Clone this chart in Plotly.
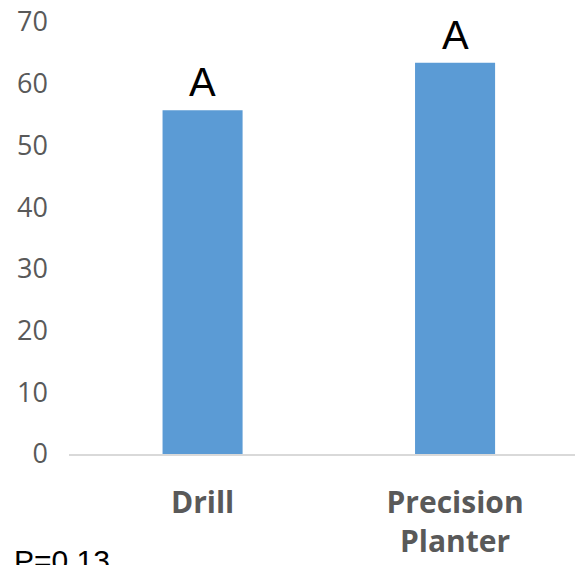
import plotly.graph_objects as go

categories = ["Drill", "Precision<br>Planter"]
values = [55.7, 63.4]
letters = ["A", "A"]
y_ticks = [0, 10, 20, 30, 40, 50, 60, 70]
p_text = "P=0.13"

fig = go.Figure()
fig.add_trace(go.Bar(
    x=categories, y=values,
    marker=dict(color="#5b9bd5", line=dict(width=0)),
    width=0.317,
))

for c, v, t in zip(categories, values, letters):
    fig.add_annotation(x=c, y=v, text=t, showarrow=False, yanchor="bottom",
                       yshift=4, font=dict(family="Arial", size=40, color="black"))

fig.add_annotation(x=-0.113, xref="paper", xanchor="left", y=-0.203, yref="paper",
                   yanchor="top", text=p_text, showarrow=False,
                   font=dict(family="Arial", size=30, color="black"))

fig.update_layout(
    width=575, height=565,
    margin=dict(l=69, r=0, t=22, b=111),
    plot_bgcolor="white", paper_bgcolor="white",
    showlegend=False,
    xaxis=dict(range=[-0.529, 1.475], showline=True, linecolor="#d9d9d9", linewidth=2,
               showgrid=False, zeroline=False, ticks="",
               tickfont=dict(family="Open Sans", size=30, color="#595959", weight="bold"),
               ticklabelstandoff=21),
    yaxis=dict(range=[0, 70], tickvals=y_ticks, showgrid=False, zeroline=False,
               showline=False, ticks="",
               tickfont=dict(family="Open Sans", size=27, color="#595959"),
               ticklabelstandoff=20),
)

fig.write_html("out.html", config={"displayModeBar": False},
               post_script="document.body.style.margin='0px';")
